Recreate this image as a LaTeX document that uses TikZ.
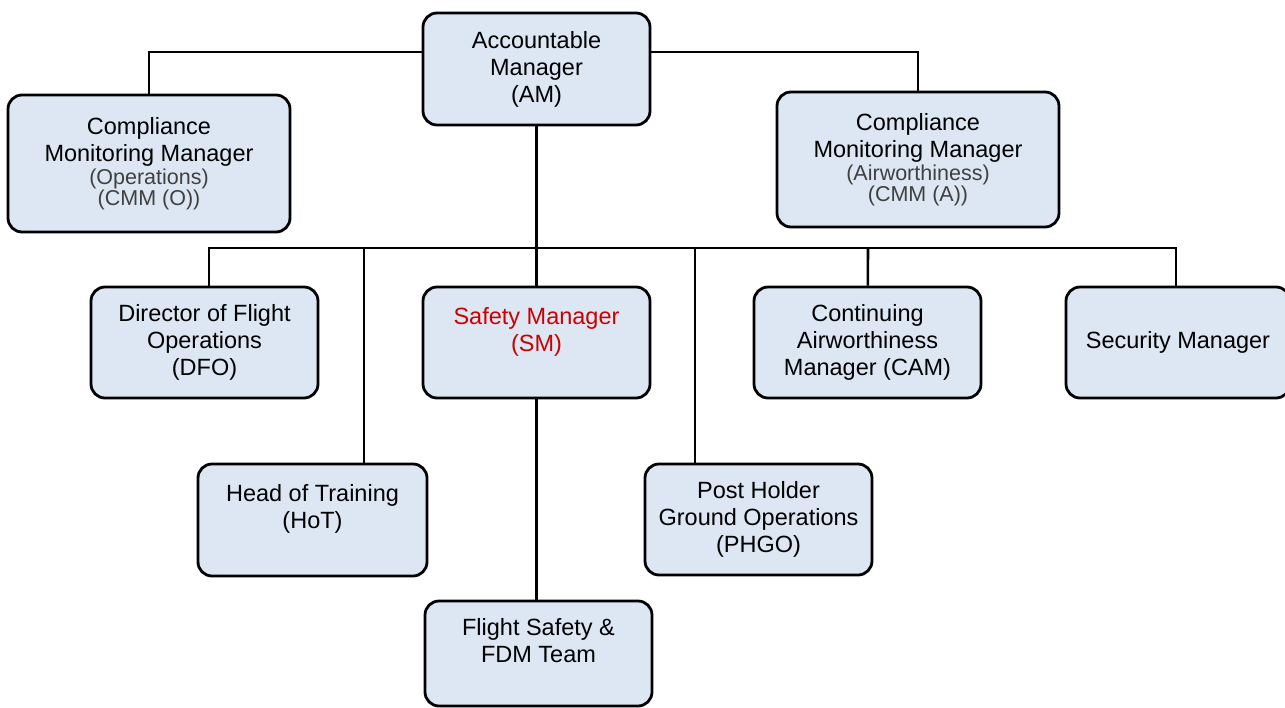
\documentclass[tikz,border=0pt]{standalone}
\usepackage{fontspec}
\setmainfont{Liberation Sans}
\usepackage{xcolor}
\usetikzlibrary{positioning,calc}
\definecolor{boxfill}{RGB}{220,231,243}
\definecolor{smred}{RGB}{204,0,0}
\newcommand{\subline}[1]{{\fontsize{21.5}{23}\selectfont\color{black!75}#1}}

\begin{document}
\begin{tikzpicture}[x=1pt, y=-1pt,
    orgbox/.style={draw, line width=2.8pt, rounded corners=14pt, fill=boxfill,
        align=center, inner sep=0pt, font=\fontsize{23.5}{27}\selectfont},
    link/.style={line width=2.6pt}]
    \useasboundingbox (0,0) rectangle (1285,707);
    % top level
    \node[orgbox, minimum width=227pt, minimum height=112pt] (am) at (536.5,69) {Accountable\\Manager\\(AM)};
    \node[orgbox, minimum width=282pt, minimum height=137pt] (cmmo) at (149,163.5)
        {Compliance\\Monitoring Manager\\[-4pt]\subline{(Operations)}\\[-6pt]\subline{(CMM (O))}};
    \node[orgbox, minimum width=282pt, minimum height=135pt] (cmma) at (918,159.5)
        {Compliance\\Monitoring Manager\\[-4pt]\subline{(Airworthiness)}\\[-6pt]\subline{(CMM (A))}};
    % second row
    \node[orgbox, minimum width=227pt, minimum height=111pt] (dfo) at (204.5,342.5) {Director of Flight\\Operations\\(DFO)};
    \node[orgbox, text=smred, minimum width=227pt, minimum height=111pt] (sm) at (536.5,342.5) {Safety Manager\\(SM)\\\mbox{}};
    \node[orgbox, minimum width=227pt, minimum height=111pt] (cam) at (867.5,342.5) {Continuing\\Airworthiness\\Manager (CAM)};
    \node[orgbox, minimum width=224pt, minimum height=111pt] (sec) at (1178,342.5) {Security Manager};
    % third row
    \node[orgbox, minimum width=229pt, minimum height=112pt] (hot) at (312.5,520) {Head of Training\\(HoT)\\\mbox{}};
    \node[orgbox, minimum width=227pt, minimum height=111pt] (phgo) at (758.5,519.5) {Post Holder\\Ground Operations\\(PHGO)};
    \node[orgbox, minimum width=227pt, minimum height=105pt] (fdm) at (538.5,653.5) {Flight Safety \&\\FDM Team\\\mbox{}};
    % bus
    \coordinate (busL) at (209,248);
    \coordinate (busR) at (1176,248);
    \coordinate (dHot) at (364,248);
    \coordinate (dPhgo) at (695,248);
    \coordinate (dCam) at (868,248);
    % connectors
    \draw[link] ([yshift=17pt]am.west) -| (cmmo);
    \draw[link] ([yshift=17pt]am.east) -| (cmma);
    \draw[link] (am) -- (am |- busL);
    \draw[link] (busL |- dfo.north) -- (busL) -- (busR) -- (busR |- sec.north);
    \draw[link] (dHot) -- (dHot |- hot.north);
    \draw[link] (am |- busL) -- (sm);
    \draw[link] (dPhgo) -- (dPhgo |- phgo.north);
    \draw[link] (dCam) -- (cam);
    \draw[link] (sm) -- (sm |- fdm.north);
\end{tikzpicture}
\end{document}
